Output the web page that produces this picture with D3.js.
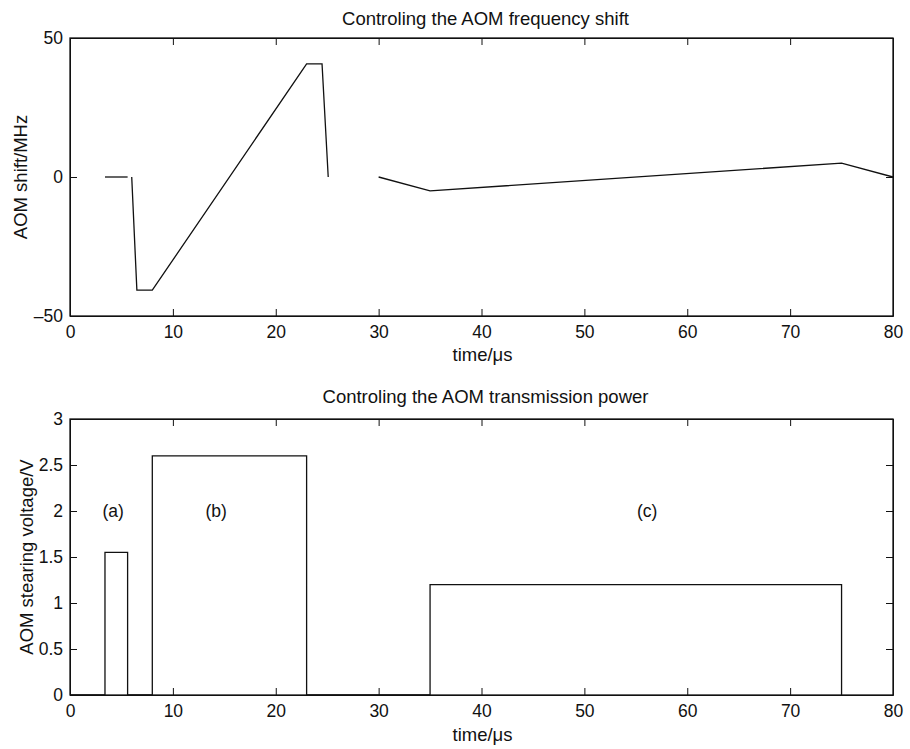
<!DOCTYPE html>
<html>
<head>
<meta charset="utf-8">
<script src="https://cdn.jsdelivr.net/npm/d3@7"></script>
<style>
	body { margin: 0; background: #fff; }
	text { font-family: "Liberation Sans", Arial, sans-serif; fill: #111; }
	.axis path, .axis line { stroke: #111; }
	.trace { fill: none; stroke: #111; stroke-width: 1.3; }
</style>
</head>
<body>
<div id="chart"></div>
<script>
// top panel: AOM frequency shift, three separate traces (gaps between them)
var shiftTime1 = [3.4, 5.6],
	shiftValue1 = [0, 0];
var shiftTime2 = [6.0, 6.5, 8.0, 23.0, 24.5, 25.1],
	shiftValue2 = [0, -40.7, -40.7, 40.7, 40.7, 0];
var shiftTime3 = [30, 35, 75, 80],
	shiftValue3 = [0, -5, 5, 0];

// bottom panel: transmission power pulses
var pulseStart = [3.4, 8, 35],
	pulseEnd = [5.6, 23, 75],
	pulseLevel = [1.55, 2.6, 1.2];
var pulseLabels = ['(a)', '(b)', '(c)'],
	pulseLabelX = [4.2, 14.2, 56.1],
	pulseLabelY = 2;

var timeTicks = [0, 10, 20, 30, 40, 50, 60, 70, 80];
var shiftTicks = [-50, 0, 50];
var powerTicks = [0, 0.5, 1, 1.5, 2, 2.5, 3];

var width = 910, height = 749;
var left = 70, right = 893;
var ticklen = 7;

var svg = d3.select('#chart').append('svg')
	.attr('width', width)
	.attr('height', height);

var x = d3.scaleLinear().domain([0, 80]).range([left, right]);

function panel(top, bottom, ydomain, yticks, title, ylabel, ylabelX, titleY, xlabelY) {
	var y = d3.scaleLinear().domain(ydomain).range([bottom, top]);
	var g = svg.append('g');

	g.append('g').attr('class', 'axis')
		.attr('transform', 'translate(0,' + bottom + ')')
		.call(d3.axisBottom(x).tickValues(timeTicks).tickSize(-ticklen).tickSizeOuter(0).tickPadding(10))
		.call(function(s) { s.selectAll('text').style('font-size', '17.5px').attr('font-family', null); });
	g.append('g').attr('class', 'axis')
		.attr('transform', 'translate(0,' + top + ')')
		.call(d3.axisTop(x).tickValues(timeTicks).tickSize(-ticklen).tickSizeOuter(0).tickFormat(''));
	g.append('g').attr('class', 'axis')
		.attr('transform', 'translate(' + left + ',0)')
		.call(d3.axisLeft(y).tickValues(yticks).tickSize(-ticklen).tickSizeOuter(0).tickPadding(7)
			.tickFormat(function(d) { return String(d).replace('-', '\u2013'); }))
		.call(function(s) { s.selectAll('text').style('font-size', '17.5px').attr('font-family', null); });
	g.append('g').attr('class', 'axis')
		.attr('transform', 'translate(' + right + ',0)')
		.call(d3.axisRight(y).tickValues(yticks).tickSize(-ticklen).tickSizeOuter(0).tickFormat(''));

	g.append('rect')
		.attr('x', left).attr('y', top)
		.attr('width', right - left).attr('height', bottom - top)
		.attr('fill', 'none').attr('stroke', '#111').attr('stroke-width', 1.3);

	g.append('text')
		.attr('x', (left + right) / 2 + 4).attr('y', titleY)
		.attr('text-anchor', 'middle')
		.style('font-size', '18.5px')
		.text(title);
	g.append('text')
		.attr('x', (left + right) / 2 + 1).attr('y', xlabelY)
		.attr('text-anchor', 'middle')
		.style('font-size', '18.5px')
		.text('time/\u03bcs');
	g.append('text')
		.attr('transform', 'translate(' + ylabelX + ',' + ((top + bottom) / 2) + ') rotate(-90)')
		.attr('text-anchor', 'middle')
		.style('font-size', '18.5px')
		.text(ylabel);

	return {g: g, y: y};
}

// top panel
var p1 = panel(38, 316, [-50, 50], shiftTicks, 'Controling the AOM frequency shift', 'AOM shift/MHz', 27, 25, 361);
var line1 = d3.line()
	.x(function(d) { return x(d[0]); })
	.y(function(d) { return p1.y(d[1]); });
[[shiftTime1, shiftValue1], [shiftTime2, shiftValue2], [shiftTime3, shiftValue3]].forEach(function(s) {
	p1.g.append('path')
		.attr('class', 'trace')
		.attr('d', line1(d3.zip(s[0], s[1])));
});

// bottom panel
var p2 = panel(419, 695, [0, 3], powerTicks, 'Controling the AOM transmission power', 'AOM stearing voltage/V', 33, 403, 741);
var steps = [[0, 0]];
pulseStart.forEach(function(s, i) {
	steps.push([s, 0], [s, pulseLevel[i]], [pulseEnd[i], pulseLevel[i]], [pulseEnd[i], 0]);
});
var line2 = d3.line()
	.x(function(d) { return x(d[0]); })
	.y(function(d) { return p2.y(d[1]); });
p2.g.append('path')
	.attr('class', 'trace')
	.attr('d', line2(steps));

p2.g.selectAll('.plabel')
	.data(pulseLabels)
	.enter().append('text')
	.attr('class', 'plabel')
	.attr('x', function(d, i) { return x(pulseLabelX[i]); })
	.attr('y', p2.y(pulseLabelY))
	.attr('dy', '0.35em')
	.attr('text-anchor', 'middle')
	.style('font-size', '17.5px')
	.text(function(d) { return d; });
</script>
</body>
</html>
